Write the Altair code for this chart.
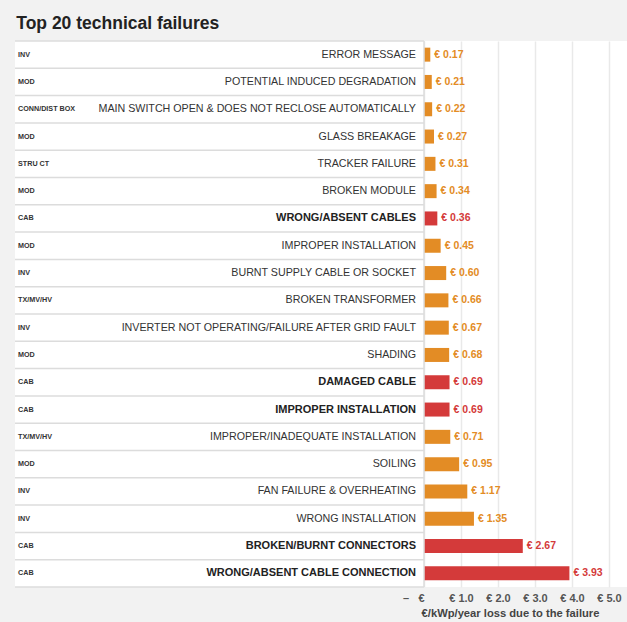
import altair as alt
import pandas as pd

codes = ["INV", "MOD", "CONN/DIST BOX", "MOD", "STRU CT", "MOD", "CAB", "MOD", "INV", "TX/MV/HV",
         "INV", "MOD", "CAB", "CAB", "TX/MV/HV", "MOD", "INV", "INV", "CAB", "CAB"]
names = ["ERROR MESSAGE", "POTENTIAL INDUCED DEGRADATION", "MAIN SWITCH OPEN & DOES NOT RECLOSE AUTOMATICALLY",
         "GLASS BREAKAGE", "TRACKER FAILURE", "BROKEN MODULE", "WRONG/ABSENT CABLES", "IMPROPER INSTALLATION",
         "BURNT SUPPLY CABLE OR SOCKET", "BROKEN TRANSFORMER", "INVERTER NOT OPERATING/FAILURE AFTER GRID FAULT",
         "SHADING", "DAMAGED CABLE", "IMPROPER INSTALLATION", "IMPROPER/INADEQUATE INSTALLATION", "SOILING",
         "FAN FAILURE & OVERHEATING", "WRONG INSTALLATION", "BROKEN/BURNT CONNECTORS", "WRONG/ABSENT CABLE CONNECTION"]
values = [0.17, 0.21, 0.22, 0.27, 0.31, 0.34, 0.36, 0.45, 0.60, 0.66,
          0.67, 0.68, 0.69, 0.69, 0.71, 0.95, 1.17, 1.35, 2.67, 3.93]
ranks = list(range(1, 21))
tick_values = [0, 1, 2, 3, 4, 5]

df = pd.DataFrame({"rank": ranks, "code": codes, "name": names, "value": values})
df["group"] = ["cable" if c == "CAB" else "other" for c in codes]

FONT = "Liberation Sans"
LABEL_RIGHT = 409

y = alt.Y("rank:O", axis=None, scale=alt.Scale(paddingInner=0, paddingOuter=0))
color_scale = alt.Scale(domain=["cable", "other"], range=["#D43A3A", "#E38C25"])
text_color_scale = alt.Scale(domain=["cable", "other"], range=["#D04545", "#E59A35"])

base = alt.Chart(df)

sep_bottom = base.mark_rule(color="#dcdcdc", strokeWidth=1.5).encode(
    y=alt.Y("rank:O", axis=None, bandPosition=1, scale=alt.Scale(paddingInner=0, paddingOuter=0)),
    x=alt.value(0), x2=alt.value(LABEL_RIGHT))
sep_top = base.mark_rule(color="#dcdcdc", strokeWidth=1.5).encode(
    y=alt.Y("rank:O", axis=None, bandPosition=0, scale=alt.Scale(paddingInner=0, paddingOuter=0)),
    x=alt.value(0), x2=alt.value(LABEL_RIGHT)).transform_filter("datum.rank == 1")

bars = base.mark_bar(size=14).encode(
    x=alt.X("value:Q",
            scale=alt.Scale(domain=[0, 5], range=[LABEL_RIGHT, LABEL_RIGHT + 185], nice=False),
            axis=alt.Axis(values=tick_values, domain=False, ticks=False, grid=True,
                          gridColor="#e9e9e9", gridWidth=1.5,
                          labelExpr="datum.value == 0 ? '\u2013\u00a0\u00a0\u00a0\u20ac' : '\u20ac ' + format(datum.value, '.1f')",
                          labelAlign={"condition": {"test": "datum.value == 0", "value": "right"}, "value": "center"},
                          labelFont=FONT, labelFontSize=11, labelFontWeight="bold", labelColor="#555",
                          labelPadding=5,
                          title="\u20ac/kWp/year loss due to the failure",
                          titleFont=FONT, titleFontSize=11.2, titleFontWeight="bold", titleColor="#444",
                          titleX=495, titleY=29, titleBaseline="alphabetic", titleAnchor="middle")),
    y=y,
    color=alt.Color("group:N", scale=color_scale, legend=None))

border = base.mark_rule(color="#dcdcdc", strokeWidth=1.5).encode(
    x=alt.value(LABEL_RIGHT), y=alt.value(0), y2=alt.value(546)).transform_filter("datum.rank == 1")

val_text = base.mark_text(align="left", baseline="middle", dx=4, font=FONT, fontSize=10.5,
                          fontWeight="bold").transform_calculate(
    lab="'\u20ac ' + format(datum.value, '.2f')").encode(
    x="value:Q", y=y, text="lab:N",
    color=alt.Color("group:N", scale=text_color_scale, legend=None))

code_text = base.mark_text(align="left", baseline="middle", font=FONT, fontSize=7.2,
                           fontWeight="bold", color="#333").encode(
    x=alt.value(3), y=y, text="code:N")

name_regular = base.mark_text(align="right", baseline="middle", font=FONT, fontSize=10.7,
                              color="#333").encode(
    x=alt.value(LABEL_RIGHT - 8), y=y, text="name:N").transform_filter("datum.code != 'CAB'")
name_bold = base.mark_text(align="right", baseline="middle", font=FONT, fontSize=11,
                           fontWeight="bold", color="#222").encode(
    x=alt.value(LABEL_RIGHT - 8), y=y, text="name:N").transform_filter("datum.code == 'CAB'")

chart = alt.layer(sep_bottom, sep_top, bars, border, val_text, code_text, name_regular, name_bold).properties(
    width=612, height=546,
    padding={"left": 15, "top": 41, "right": 0, "bottom": 35},
    autosize=alt.AutoSizeParams(type="none"),
    background="#f2f2f2",
    title=alt.TitleParams("Top 20 technical failures", anchor="start", fontSize=17.5, font=FONT,
                          fontWeight="bold", color="#222", offset=8, dx=2),
).configure_view(fill="white", strokeWidth=0)

chart.save("out.html", embed_options={"renderer": "svg", "actions": False})
